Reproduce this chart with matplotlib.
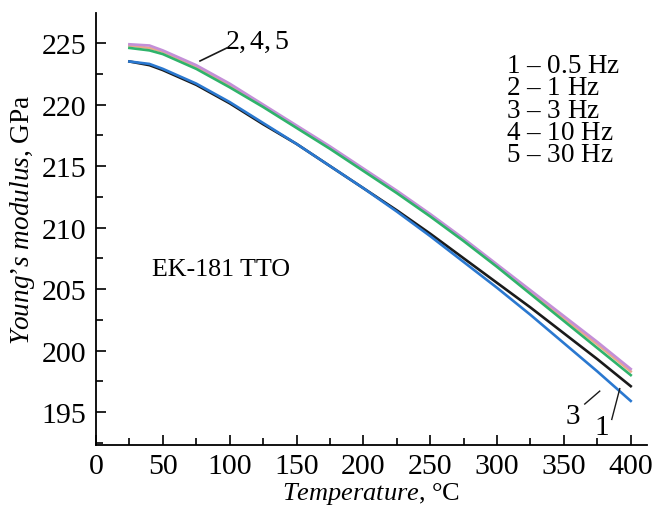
import matplotlib
matplotlib.use("Agg")
import matplotlib.pyplot as plt
from matplotlib.ticker import MultipleLocator

plt.rcParams['font.family'] = ['Liberation Serif', 'DejaVu Serif']
plt.rcParams['mathtext.fontset'] = 'custom'
plt.rcParams['mathtext.rm'] = 'Liberation Serif'
plt.rcParams['mathtext.it'] = 'Liberation Serif:italic'

# Data
temperature = [25, 40, 50, 75, 100, 125, 150, 175, 200, 225, 250, 275, 300, 325, 350, 375, 400]
e_1 = [223.5, 223.2, 222.8, 221.6, 220.1, 218.4, 216.8, 215.0, 213.2, 211.4, 209.5, 207.5, 205.5, 203.5, 201.4, 199.3, 197.1]
e_2 = [224.6, 224.4, 224.1, 222.9, 221.4, 219.8, 218.1, 216.4, 214.6, 212.8, 210.9, 208.9, 206.8, 204.6, 202.4, 200.2, 198.0]
e_3 = [223.5, 223.3, 222.9, 221.7, 220.2, 218.5, 216.8, 215.0, 213.2, 211.3, 209.3, 207.2, 205.1, 202.9, 200.6, 198.3, 195.9]
e_4 = [224.8, 224.6, 224.3, 223.1, 221.6, 219.9, 218.2, 216.5, 214.7, 212.9, 211.0, 209.0, 206.9, 204.8, 202.6, 200.5, 198.3]
e_5 = [224.9, 224.8, 224.4, 223.2, 221.7, 220.0, 218.3, 216.6, 214.8, 213.0, 211.1, 209.1, 207.0, 204.9, 202.8, 200.7, 198.5]
legend_rows = ["1", "2", "3", "4", "5"]
legend_text = ["0.5 Hz", "1 Hz", "3 Hz", "10 Hz", "30 Hz"]

fig = plt.figure(figsize=(6.52, 5.06), dpi=100)
ax = fig.add_axes([0.1472, 0.1186, 0.8448, 0.8537])

ax.plot(temperature, e_4, color='#e8a98c', lw=1.9)
ax.plot(temperature, e_5, color='#c48fd8', lw=1.9)
ax.plot(temperature, e_2, color='#2fb36b', lw=1.9)
ax.plot(temperature, e_1, color='#1a1a1a', lw=1.9)
ax.plot(temperature, e_3, color='#2a78d0', lw=1.9)

ax.set_xlim(0, 412)
ax.set_ylim(192.32, 227.44)
ax.xaxis.set_major_locator(MultipleLocator(50))
ax.xaxis.set_minor_locator(MultipleLocator(25))
ax.yaxis.set_major_locator(MultipleLocator(5))
ax.yaxis.set_minor_locator(MultipleLocator(2.5))
ax.tick_params(which='both', direction='in', width=1.2, labelsize=21.5)
ax.tick_params(axis='y', pad=7)
ax.tick_params(axis='x', pad=6)
ax.tick_params(which='major', length=7)
ax.tick_params(which='minor', length=5)
for s in ['top', 'right']:
    ax.spines[s].set_visible(False)
for s in ['left', 'bottom']:
    ax.spines[s].set_linewidth(1.3)

ax.set_xlabel(r"$\mathit{Temperature}$, °C", fontsize=19)
ax.xaxis.set_label_coords(0.5, -0.11)
ax.xaxis.label.set_va('center')
ax.set_ylabel(r"$\mathit{Young’s\ modulus}$, GPa", fontsize=19.6)
ax.yaxis.set_label_coords(-0.134, 0.523)
ax.yaxis.label.set_va('center')

legend_str = "\n".join(r"$\mathit{" + r + "}$ – " + t for r, t in zip(legend_rows, legend_text))
ax.text(307, 219.55, legend_str, fontsize=19.5, ha='left', va='center',
        linespacing=0.86)

ax.text(42, 206.6, "EK-181 TTO", fontsize=18.7, ha='left', va='center')

ax.text(120.4, 225.16, r"$\mathit{2, 4, 5}$", fontsize=20, ha='center', va='center')
ax.plot([77.8, 97.9], [223.54, 224.6], color='#1a1a1a', lw=1.2)
ax.text(356.6, 194.7, r"$\mathit{3}$", fontsize=21, ha='center', va='center')
ax.plot([365.6, 376.8], [195.65, 196.7], color='#1a1a1a', lw=1.0)
ax.text(378.3, 193.8, r"$\mathit{1}$", fontsize=21, ha='center', va='center')
ax.plot([385.8, 391.8], [194.4, 196.9], color='#1a1a1a', lw=1.0)

fig.savefig("out.png", dpi=100)
